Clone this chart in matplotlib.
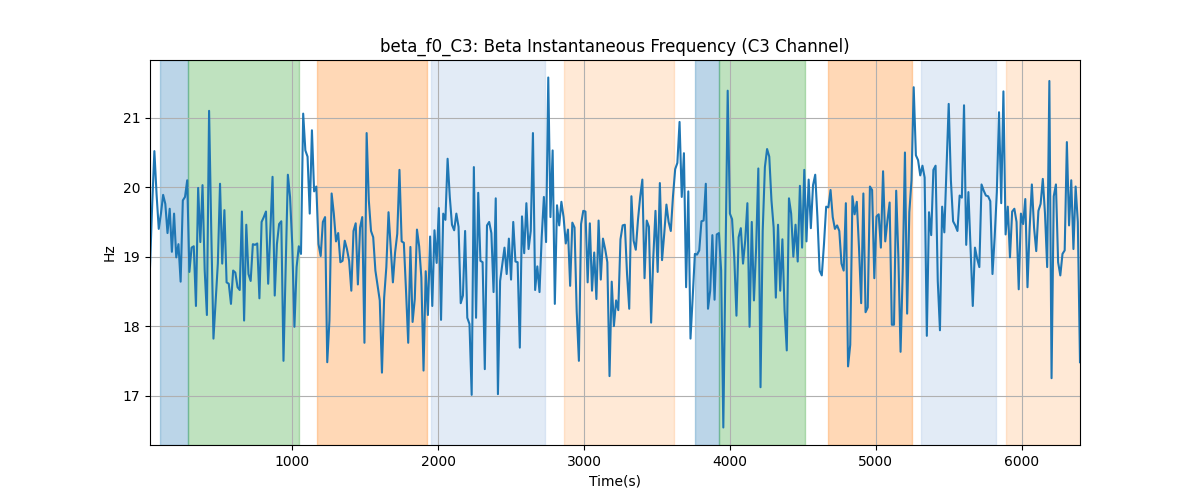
import numpy as np
import matplotlib
matplotlib.use('Agg')
import matplotlib.pyplot as plt

# 采样时间：起点和步长（秒）
t_start = 25
t_step = 15

# beta 瞬时频率 (Hz)
freq = [
    18.85, 19.75, 20.52, 19.90, 19.40, 19.62, 19.89, 19.76, 19.34, 19.69,
    19.07, 19.62, 18.99, 19.18, 18.64, 19.81, 19.86, 20.10, 18.78, 19.13,
    19.15, 18.29, 19.99, 19.21, 20.03, 18.80, 18.16, 21.10, 19.37, 17.82,
    18.35, 18.90, 20.05, 18.90, 19.67, 18.63, 18.61, 18.32, 18.80, 18.77,
    18.56, 18.52, 19.65, 18.08, 19.46, 18.75, 18.65, 19.18, 19.17, 19.19,
    18.40, 19.50, 19.57, 19.65,
    18.61, 19.37, 20.15, 18.44, 19.18, 19.47, 19.51, 17.50, 18.85, 20.18,
    19.86, 19.18, 17.99, 18.85, 19.15, 19.04, 21.06, 20.53, 20.44, 19.62,
    20.82, 19.94, 20.01, 19.18, 19.01, 19.50, 19.57, 17.48, 18.08, 19.91,
    19.62, 19.22, 19.34, 18.92, 18.94, 19.23, 19.11, 18.94, 18.51, 19.37,
    19.48, 18.60, 19.42, 19.57, 17.76, 20.78, 19.81, 19.37, 19.28, 18.80,
    18.58, 18.37, 17.33,
    18.41, 18.85, 19.64, 19.13, 18.63, 19.06, 19.33, 20.25, 19.22, 19.20,
    18.51, 17.76, 19.14, 18.06, 18.39, 19.39, 19.15, 18.70, 17.36, 18.79,
    18.16, 19.29, 18.29, 19.38, 18.91, 19.70, 18.09, 19.62, 19.53, 20.41,
    19.86, 19.46, 19.38, 19.62, 19.43, 18.33, 18.44, 19.37, 18.12, 18.03,
    17.01, 20.29, 18.12, 19.92, 18.94, 18.92, 17.38, 19.45, 19.50, 19.34,
    18.49, 19.84, 17.02,
    18.65, 18.89, 19.13, 18.75, 19.26, 18.67, 19.50, 18.93, 18.92, 17.69,
    19.58, 19.05, 19.77, 19.11, 19.37, 20.78, 18.52, 18.86, 18.49, 19.28,
    19.86, 19.21, 21.58, 19.57, 20.53, 18.32, 19.74, 19.45, 19.79, 19.57,
    19.19, 19.39, 18.58, 19.49, 19.42, 18.21, 17.50, 19.47, 19.66, 19.65,
    18.63, 19.48, 18.51, 19.06, 18.39, 19.52, 18.67, 19.26, 19.11, 18.92,
    17.28, 18.64, 18.00,
    18.37, 18.23, 19.25, 19.45, 19.46, 18.75, 18.25, 19.87, 19.23, 19.10,
    19.53, 19.86, 20.11, 18.69, 19.52, 19.43, 18.05, 18.99, 19.66, 18.78,
    20.06, 18.95, 19.33, 19.75, 19.50, 19.37, 19.87, 20.26, 20.35, 20.94,
    19.86, 20.49, 18.56, 19.94, 17.82, 18.41, 19.04, 19.03, 19.09, 19.51,
    19.52, 20.05, 18.25, 18.51, 19.31, 18.38, 19.32, 19.34, 18.80, 16.54,
    19.00, 21.39,
    19.62, 19.54, 18.99, 18.15, 19.28, 19.41, 18.90, 19.23, 19.77, 17.99,
    19.50, 18.37, 19.13, 20.27, 17.12, 19.37, 20.29, 20.55, 20.44, 19.81,
    19.42, 18.41, 19.46, 18.51, 19.25, 18.22, 17.65, 19.84, 19.62, 19.00,
    19.46, 18.93, 20.02, 19.13, 20.25, 19.22, 20.11, 19.41, 20.03, 20.18,
    19.57, 18.80, 18.73, 19.18, 19.72, 19.71, 19.96, 19.57, 19.40, 19.45,
    19.37, 18.90, 18.80, 19.77,
    17.42, 17.73, 19.87, 19.61, 19.79, 19.13, 18.33, 19.91, 18.20, 18.27,
    20.01, 19.96, 18.69, 19.58, 19.61, 19.13, 20.23, 19.22, 19.52, 19.78,
    18.02, 18.02, 19.95, 18.99, 17.63, 18.80, 20.50, 18.18, 19.64, 20.10,
    21.44, 20.46, 20.39, 20.17, 20.31, 20.14, 17.86, 19.64, 19.31, 20.25,
    20.31, 18.65, 17.94, 19.72, 19.35, 20.29, 21.20, 20.10, 19.51, 19.45,
    19.37, 19.88, 19.85,
    21.18, 19.17, 19.93, 19.13, 18.29, 19.13, 18.97, 18.85, 20.04, 19.95,
    19.88, 19.87, 19.80, 18.75, 19.28, 19.93, 21.08, 19.77, 21.38, 19.32,
    19.72, 18.99, 19.65, 19.69, 19.50, 18.53, 19.62, 19.47, 19.83, 18.56,
    19.42, 20.04, 19.42, 19.08, 19.66, 19.76, 20.12, 19.62, 18.85, 21.53,
    17.25, 19.87, 20.04, 18.92, 18.73, 19.04, 19.09, 20.65, 19.45, 20.10,
    19.11, 20.01, 19.50, 17.48,
]

# 阶段区间（秒）及颜色
span_start = [93, 286, 1172, 1948, 2861, 3761, 3926, 4674, 5313, 5890]
span_end = [286, 1045, 1921, 2734, 3615, 3926, 4514, 5249, 5826, 6420]
span_color = ['tab:blue', 'tab:green', 'tab:orange', '#aec7e8', 'tab:orange',
              'tab:blue', 'tab:green', 'tab:orange', '#aec7e8', 'tab:orange']
span_alpha = [0.3, 0.3, 0.3, 0.35, 0.17, 0.3, 0.3, 0.3, 0.35, 0.17]

t = t_start + t_step * np.arange(len(freq))

fig, ax = plt.subplots(figsize=(12, 5), dpi=100)
for s, e, c, a in zip(span_start, span_end, span_color, span_alpha):
    ax.axvspan(s, e, color=c, alpha=a)
ax.plot(t, freq, color='tab:blue')
ax.set_xlim(t[0], t[-1])
ax.set_title('beta_f0_C3: Beta Instantaneous Frequency (C3 Channel)')
ax.set_xlabel('Time(s)')
ax.set_ylabel('Hz')
ax.grid(True)
plt.savefig('out.png')
